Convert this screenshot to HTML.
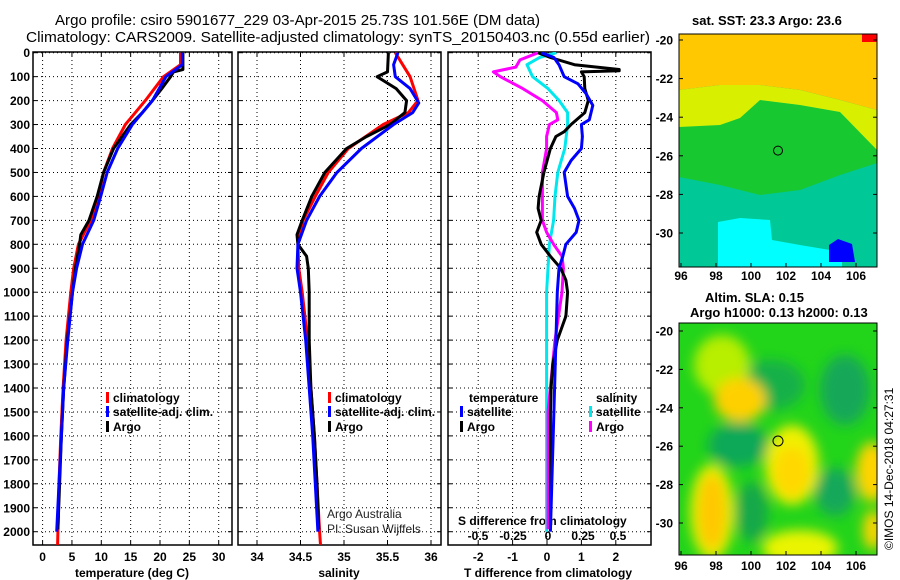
<!DOCTYPE html>
<html><head><meta charset="utf-8"><style>
html,body{margin:0;padding:0;background:#fff;}
svg{display:block;font-family:"Liberation Sans",sans-serif;}
.t{font-size:13px;font-weight:bold;}
.tk{font-size:12px;font-weight:bold;}
</style></head><body>
<svg id="c" width="900" height="580" viewBox="0 0 900 580" xmlns="http://www.w3.org/2000/svg">
<defs>
<filter id="bl" x="-50%" y="-50%" width="200%" height="200%"><feGaussianBlur stdDeviation="6"/></filter>
<clipPath id="m1"><rect x="679" y="34" width="198" height="233"/></clipPath>
<clipPath id="m2"><rect x="679" y="323" width="198" height="232"/></clipPath>
<clipPath id="p1"><rect x="33" y="52" width="199" height="493"/></clipPath>
<clipPath id="p2"><rect x="238" y="52" width="203" height="493"/></clipPath>
<clipPath id="p3"><rect x="448" y="52" width="203" height="493"/></clipPath>
</defs>
<text x="55" y="25" font-size="15" textLength="485" lengthAdjust="spacingAndGlyphs">Argo profile: csiro 5901677_229 03-Apr-2015 25.73S 101.56E (DM data)</text>
<text x="26" y="42" font-size="15" textLength="624" lengthAdjust="spacingAndGlyphs">Climatology: CARS2009. Satellite-adjusted climatology: synTS_20150403.nc (0.55d earlier)</text>

<!-- SST map -->
<g clip-path="url(#m1)">
<rect x="679" y="34" width="198" height="233" fill="#00c896"/>
<polygon points="679,34 877,34 877,300 679,300" fill="#00c896"/>
<polygon points="679,127 720,125 740,118 760,100 800,105 840,112 877,150 877,163 840,175 800,190 760,195 720,185 679,177" fill="#18c830"/>
<polygon points="679,90 720,85 760,85 800,90 840,100 877,110 877,150 840,112 800,105 760,100 740,118 720,125 679,127" fill="#d8f000"/>
<polygon points="679,34 877,34 877,110 840,100 800,90 760,85 720,85 679,90" fill="#ffc800"/>
<polygon points="718,267 718,222 740,218 770,220 772,240 800,245 830,250 842,258 842,267" fill="#00ffff"/>
<polygon points="829,262 829,245 838,239 852,244 855,262" fill="#0000ff"/>
<rect x="862" y="34" width="15" height="8" fill="#ff0000"/>
<circle cx="778" cy="150.6" r="4.5" fill="none" stroke="#000" stroke-width="1"/>
</g>
<rect x="679" y="34" width="198" height="233" fill="none" stroke="#000"/>
<text x="692" y="25" class="t">sat. SST: 23.3 Argo: 23.6</text>

<!-- SLA map -->
<g clip-path="url(#m2)">
<rect x="679" y="323" width="198" height="232" fill="#22d41a"/>
<g filter="url(#bl)">
<ellipse cx="770" cy="385" rx="35" ry="25" fill="#18b048"/>
<ellipse cx="845" cy="390" rx="25" ry="35" fill="#14a858"/>
<ellipse cx="738" cy="445" rx="30" ry="22" fill="#10a858"/>
<ellipse cx="835" cy="492" rx="20" ry="24" fill="#12a85a"/>
<ellipse cx="752" cy="512" rx="16" ry="30" fill="#18a848"/>
<ellipse cx="722" cy="365" rx="28" ry="30" fill="#b8ee00"/>
<ellipse cx="740" cy="400" rx="26" ry="22" fill="#ffd000"/>
<ellipse cx="792" cy="465" rx="27" ry="40" fill="#f0f000"/>
<ellipse cx="792" cy="472" rx="18" ry="25" fill="#ffd800"/>
<ellipse cx="712" cy="512" rx="22" ry="48" fill="#e8f000"/>
<ellipse cx="712" cy="512" rx="14" ry="38" fill="#ffc800"/>
<ellipse cx="872" cy="472" rx="16" ry="30" fill="#ffd400"/>
<ellipse cx="800" cy="548" rx="38" ry="18" fill="#eaf400"/>
<ellipse cx="873" cy="530" rx="10" ry="20" fill="#ffd400"/>
</g>
<circle cx="778" cy="441" r="5" fill="none" stroke="#000" stroke-width="1"/>
</g>
<rect x="679" y="323" width="198" height="232" fill="none" stroke="#000"/>
<text x="705" y="302" class="t">Altim. SLA: 0.15</text>
<text x="690" y="317" class="t">Argo h1000: 0.13 h2000: 0.13</text>
<text transform="translate(893,550) rotate(-90)" font-size="12">©IMOS 14-Dec-2018 04:27:31</text>

<text x="327" y="518" font-size="12" fill="#222">Argo Australia</text>
<text x="327" y="533" font-size="12" fill="#222">PI: Susan Wijffels</text>
</svg>
<script>
// ---- data ----
const depthTicks=[0,100,200,300,400,500,600,700,800,900,1000,1100,1200,1300,1400,1500,1600,1700,1800,1900,2000];
const tempTicks=[0,5,10,15,20,25,30];
const salTicks=[34,34.5,35,35.5,36];
const tdiffTicks=[-2,-1,0,1,2];
const sdiffTicks=[-0.5,-0.25,0,0.25,0.5];
const latTicks=[-20,-22,-24,-26,-28,-30];
const lonTicks=[96,98,100,102,104,106];

const argoTDepth=[0,70,80,100,150,200,250,300,400,500,600,700,760,800,900,1000,1200,1400,1600,1800,1990];
const argoTemp=[23.9,23.9,22.3,21.8,20.3,18.7,17,15,12.1,10.4,9.3,7.9,6.5,6.3,5.6,5.1,4.2,3.6,3.2,2.9,2.6];
const climTDepth=[0,50,100,200,300,400,500,600,700,800,900,1000,1200,1400,1600,1800,2000,2055];
const climTemp=[23.5,23.5,20.6,17.5,14.1,11.9,10.4,9.5,8.2,6.1,5.3,4.8,4.0,3.5,3.1,2.8,2.6,2.55];
const satTDepth=[0,50,100,200,300,400,500,600,700,800,900,1000,1200,1400,1600,1800,2000];
const satTemp=[23.8,23.8,21,18.7,15.3,12.8,11,9.9,8.7,6.8,5.8,5.1,4.3,3.6,3.2,2.8,2.4];

const argoSDepth=[0,80,100,150,200,250,300,350,400,500,600,700,760,800,850,900,1000,1200,1400,1600,1800,1990];
const argoSal=[35.51,35.5,35.38,35.6,35.72,35.7,35.53,35.26,35.03,34.78,34.63,34.52,34.46,34.47,34.57,34.59,34.6,34.6,34.62,34.66,34.69,34.71];
const climSDepth=[0,100,200,250,300,400,500,600,700,800,900,1000,1200,1400,1600,1800,2000,2055];
const climSal=[35.59,35.76,35.85,35.74,35.45,35.05,34.82,34.67,34.53,34.47,34.48,34.52,34.58,34.62,34.66,34.69,34.72,34.73];
const satSDepth=[0,50,100,150,210,250,300,400,500,600,700,800,900,1000,1100,1200,1400,1600,1800,2000];
const satSal=[35.62,35.57,35.59,35.76,35.86,35.79,35.57,35.2,34.92,34.72,34.57,34.47,34.46,34.5,34.53,34.56,34.6,34.64,34.67,34.7];

const dArgoTDepth=[0,20,50,70,75,80,100,150,200,250,300,330,350,400,500,600,650,700,750,800,850,900,950,1000,1100,1200,1300,1400,1500,1700,1990];
const dArgoT=[-0.26,0.1,0.8,2.1,2.1,1.0,1.08,1.1,1.2,1.1,0.7,0.5,0.26,0.1,-0.09,-0.23,-0.26,-0.17,-0.3,-0.17,0.1,0.4,0.55,0.6,0.55,0.3,0.17,0.12,0.1,0.1,0.1];
const dSatTDepth=[0,20,50,100,130,170,220,280,300,350,400,450,500,600,650,700,750,800,850,900,1000,1500,2000];
const dSatT=[-0.17,0.2,0.35,0.5,0.9,1.13,1.33,1.23,1.0,1.03,1.0,0.7,0.5,0.6,0.8,0.93,0.85,0.55,0.46,0.35,0.3,0.2,0.1];
const dArgoSDepth=[0,30,60,80,100,150,200,250,280,300,350,400,500,600,700,750,800,850,900,1000,1200,1500,1990];
const dArgoS=[-0.07,-0.2,-0.23,-0.39,-0.34,-0.18,-0.04,0.06,0.07,0.01,-0.01,-0.01,-0.04,-0.04,-0.04,-0.01,0.04,0.1,0.11,0.1,0.05,0.0,0.0];
const dSatSDepth=[0,20,50,100,150,200,250,300,350,400,500,600,700,800,900,1000,1500,2000];
const dSatS=[0.06,-0.06,-0.15,-0.11,0,0.08,0.14,0.14,0.13,0.12,0.07,0.05,0.04,0.01,0.0,-0.01,-0.01,-0.01];

// ---- axes ----
const NS='http://www.w3.org/2000/svg';
const svg=document.getElementById('c');
const yD=d=>52.7+d*0.2395;
const xT=t=>42.6+t*5.87;
const xS=s=>257+(s-34)*87;
const xDT=t=>547+t*34.4;
const xDS=s=>548+s*140;
const lonX=l=>681+(l-96)*17.5;
const lat1Y=l=>40+(-20-l)*19.3;
const lat2Y=l=>331+(-20-l)*19.2;
const TOP=52,BOT=545;

function mk(tag,attrs,parent){const e=document.createElementNS(NS,tag);for(const k in attrs)e.setAttribute(k,attrs[k]);(parent||svg).appendChild(e);return e;}

const panels=[
 {x0:33,x1:232,ticks:tempTicks,fx:xT,title:'temperature (deg C)',tx:132,clip:'p1',name:'temperature-panel'},
 {x0:238,x1:441,ticks:salTicks,fx:xS,title:'salinity',tx:339,clip:'p2',name:'salinity-panel'},
 {x0:448,x1:651,ticks:tdiffTicks,fx:xDT,title:'T difference from climatology',tx:548,clip:'p3',name:'difference-panel'}
];
panels.forEach(p=>{
 const g=mk('g',{});
 
 
 depthTicks.forEach(d=>{const l=mk('line',{x1:p.x0,x2:p.x1,y1:yD(d),y2:yD(d),stroke:'#000','stroke-width':1,'stroke-dasharray':'1,3'},g);
  
  mk('line',{x1:p.x0,x2:p.x0+4,y1:yD(d),y2:yD(d),stroke:'#000'},g);mk('line',{x1:p.x1-4,x2:p.x1,y1:yD(d),y2:yD(d),stroke:'#000'},g);});
 p.ticks.forEach(v=>{const x=p.fx(v);const l=mk('line',{x1:x,x2:x,y1:TOP,y2:BOT,stroke:'#000','stroke-width':1,'stroke-dasharray':'1,3'},g);
  
  mk('line',{x1:x,x2:x,y1:BOT-4,y2:BOT,stroke:'#000'},g);mk('line',{x1:x,x2:x,y1:TOP,y2:TOP+4,stroke:'#000'},g);
  const t=mk('text',{x:x,y:561,'text-anchor':'middle',class:'tk'},g);t.textContent=v;
  });
 mk('rect',{x:p.x0,y:TOP,width:p.x1-p.x0,height:BOT-TOP,fill:'none',stroke:'#000','stroke-width':1.5},g);
 const at=mk('text',{x:p.tx,y:577,'text-anchor':'middle',class:'tk'},g);at.textContent=p.title;
 
});
depthTicks.forEach(d=>{const t=mk('text',{x:30,y:yD(d)+4.5,'text-anchor':'end',class:'tk'});t.textContent=d;
 });
sdiffTicks.forEach(v=>{const t=mk('text',{x:xDS(v),y:540,'text-anchor':'middle',class:'tk'});t.textContent=v;
 });
{const t=mk('text',{x:458,y:525,class:'tk'});t.textContent='S difference from climatology';
 }

function line(depths,vals,fx,color,clip,name){
 const pts=depths.map((d,i)=>fx(vals[i]).toFixed(1)+','+yD(d).toFixed(1)).join(' ');
 const e=mk('polyline',{points:pts,fill:'none',stroke:color,'stroke-width':3,'stroke-linejoin':'round','clip-path':'url(#'+clip+')'});
 
 
}
line(climTDepth,climTemp,xT,'#ff0000','p1','temp-climatology-line');
line(argoTDepth,argoTemp,xT,'#000000','p1','temp-argo-line');
line(satTDepth,satTemp,xT,'#0000ff','p1','temp-satellite-line');
line(climSDepth,climSal,xS,'#ff0000','p2','sal-climatology-line');
line(argoSDepth,argoSal,xS,'#000000','p2','sal-argo-line');
line(satSDepth,satSal,xS,'#0000ff','p2','sal-satellite-line');
line(dSatSDepth,dSatS,xDS,'#00e8ee','p3','s-diff-satellite-line');
line(dArgoSDepth,dArgoS,xDS,'#ff00ff','p3','s-diff-argo-line');
line(dArgoTDepth,dArgoT,xDT,'#000000','p3','t-diff-argo-line');
line(dSatTDepth,dSatT,xDT,'#0000ff','p3','t-diff-satellite-line');

function legend(x,y,color,label,name){
 const g=mk('g',{});
 if(color)mk('rect',{x:x,y:y-10,width:3,height:11,fill:color},g);
 const t=mk('text',{x:x+(color?7:0),y:y,class:'tk'},g);t.textContent=label;
}
legend(106,402,'#ff0000','climatology','legend-temp-climatology');
legend(106,416,'#0000ff','satellite-adj. clim.','legend-temp-satellite');
legend(106,431,'#000000','Argo','legend-temp-argo');
legend(328,402,'#ff0000','climatology','legend-sal-climatology');
legend(328,416,'#0000ff','satellite-adj. clim.','legend-sal-satellite');
legend(328,431,'#000000','Argo','legend-sal-argo');
legend(469,402,null,'temperature','legend-t-heading');
legend(460,416,'#0000ff','satellite','legend-t-satellite');
legend(460,431,'#000000','Argo','legend-t-argo');
legend(596,402,null,'salinity','legend-s-heading');
legend(589,416,'#00e8ee','satellite','legend-s-satellite');
legend(589,431,'#ff00ff','Argo','legend-s-argo');

// map axes
[[lat1Y,280],[lat2Y,570]].forEach(([fy,ly],k)=>{
 latTicks.forEach(l=>{const y=fy(l);mk('line',{x1:679,x2:683,y1:y,y2:y,stroke:'#000'});mk('line',{x1:873,x2:877,y1:y,y2:y,stroke:'#000'});
  const t=mk('text',{x:673,y:y+4.5,'text-anchor':'end',class:'tk'});t.textContent=l;
  });
 lonTicks.forEach(l=>{const x=lonX(l);const yb=k?555:267;mk('line',{x1:x,x2:x,y1:yb-4,y2:yb,stroke:'#000'});
  const t=mk('text',{x:x,y:ly,'text-anchor':'middle',class:'tk'});t.textContent=l;
  });
});
</script>
</body></html>
